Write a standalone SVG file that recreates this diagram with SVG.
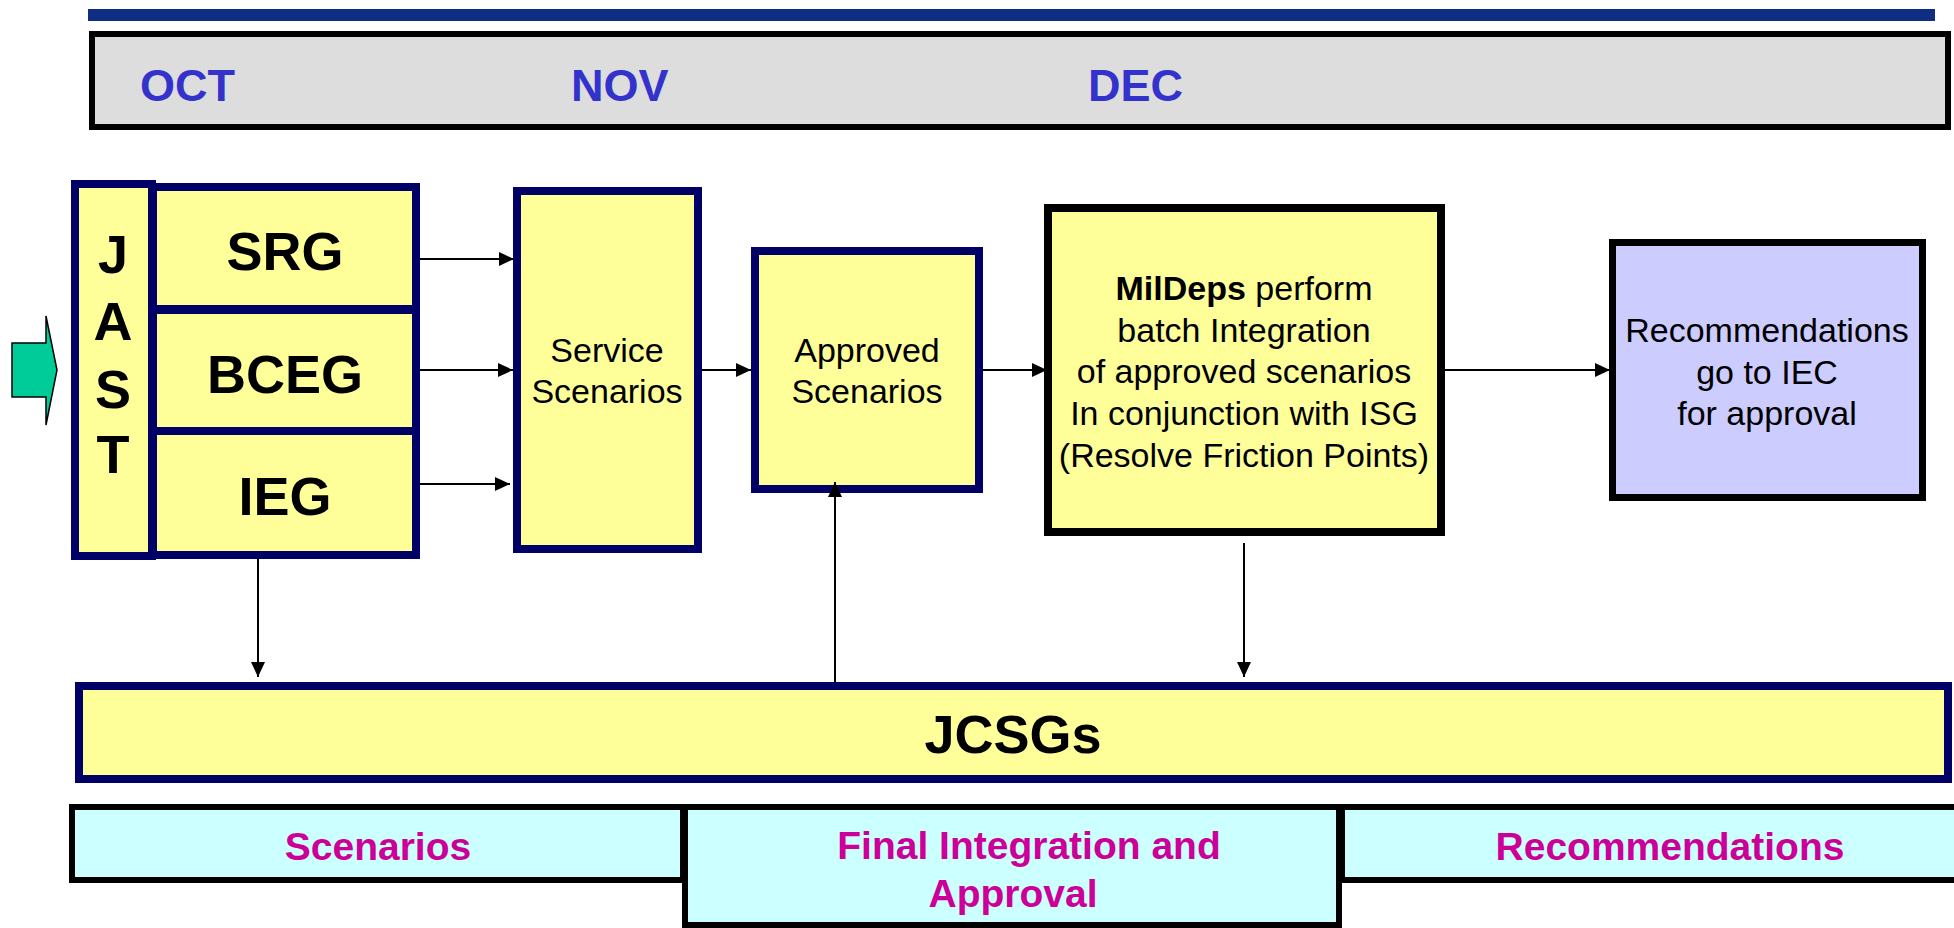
<svg xmlns="http://www.w3.org/2000/svg" width="1954" height="928" viewBox="0 0 1954 928">
  <defs>
    <marker id="arrow" markerUnits="userSpaceOnUse" markerWidth="15" markerHeight="14" refX="15" refY="7" orient="auto">
      <path d="M0,0 L15,7 L0,14 z" fill="#000"/>
    </marker>
    <style>
      text { font-family: "Liberation Sans", Arial, sans-serif; fill: #000; }
      .month { font-size: 45px; font-weight: bold; fill: #3333CC; }
      .yel { fill: #FFFF99; stroke: #000066; stroke-width: 8; }
      .yelk { fill: #FFFF99; stroke: #000; stroke-width: 8; }
      .big { font-size: 54px; font-weight: bold; text-anchor: middle; }
      .body { font-size: 34px; text-anchor: middle; }
      .phase { fill: #CCFFFF; stroke: #000; stroke-width: 6; }
      .phaseTxt { font-size: 39px; font-weight: bold; fill: #CC0099; text-anchor: middle; }
      .conn { stroke: #000; stroke-width: 2; fill: none; marker-end: url(#arrow); }
    </style>
  </defs>

  <!-- timeline header -->
  <g id="timeline">
    <rect x="88" y="9" width="1847" height="12" fill="#0F2D83"/>
    <rect x="92" y="34" width="1856" height="93" fill="#DDDDDD" stroke="#000" stroke-width="6"/>
    <text class="month" x="140" y="101">OCT</text>
    <text class="month" x="571" y="101">NOV</text>
    <text class="month" x="1088" y="101">DEC</text>
  </g>

  <!-- input arrow -->
  <g id="input-arrow">
    <polygon points="12,343 46,343 46,316 57,370 46,425 46,397 12,397" fill="#00CC99" stroke="#000" stroke-width="1.5"/>
  </g>

  <g id="jast">
    <rect class="yel" x="75" y="184" width="77" height="372"/>
    <text class="big" x="113" y="273">J</text>
    <text class="big" x="113" y="340">A</text>
    <text class="big" x="113" y="408">S</text>
    <text class="big" x="113" y="473">T</text>
  </g>

  <g id="srg">
    <rect class="yel" x="153" y="187" width="263" height="122"/>
    <text class="big" x="285" y="270">SRG</text>
  </g>
  <g id="bceg">
    <rect class="yel" x="153" y="310" width="263" height="121"/>
    <text class="big" x="285" y="393">BCEG</text>
  </g>
  <g id="ieg">
    <rect class="yel" x="153" y="431" width="263" height="124"/>
    <text class="big" x="285" y="515">IEG</text>
  </g>

  <g id="service-scenarios">
    <rect class="yel" x="517" y="191" width="181" height="358"/>
    <text class="body" x="607" y="362">Service</text>
    <text class="body" x="607" y="403">Scenarios</text>
  </g>

  <g id="approved-scenarios">
    <rect class="yel" x="755" y="251" width="224" height="238"/>
    <text class="body" x="867" y="362">Approved</text>
    <text class="body" x="867" y="403">Scenarios</text>
  </g>

  <g id="mildeps">
    <rect class="yelk" x="1048" y="208" width="393" height="324"/>
    <text class="body" x="1244" y="300"><tspan font-weight="bold">MilDeps</tspan> perform</text>
    <text class="body" x="1244" y="342">batch Integration</text>
    <text class="body" x="1244" y="383">of approved scenarios</text>
    <text class="body" x="1244" y="425">In conjunction with ISG</text>
    <text class="body" x="1244" y="467">(Resolve Friction Points)</text>
  </g>

  <g id="recommendations">
    <rect x="1612.5" y="242.5" width="310" height="255" fill="#CCCCFF" stroke="#000" stroke-width="7"/>
    <text class="body" x="1767" y="342">Recommendations</text>
    <text class="body" x="1767" y="384">go to IEC</text>
    <text class="body" x="1767" y="425">for approval</text>
  </g>

  <g id="jcsgs">
    <rect class="yel" x="79" y="686" width="1869" height="93"/>
    <text class="big" x="1013" y="753" font-size="53">JCSGs</text>
  </g>

  <!-- phase bands -->
  <g id="phase-scenarios">
    <rect class="phase" x="72" y="807" width="611" height="73"/>
    <text class="phaseTxt" x="378" y="860">Scenarios</text>
  </g>
  <g id="phase-rec">
    <rect class="phase" x="1342" y="807" width="660" height="73"/>
    <text class="phaseTxt" x="1670" y="860">Recommendations</text>
  </g>
  <g id="phase-final">
    <rect class="phase" x="685" y="807" width="654" height="118"/>
    <text class="phaseTxt" x="1029" y="859">Final Integration and</text>
    <text class="phaseTxt" x="1013" y="907">Approval</text>
  </g>

  <g id="connectors">
    <line class="conn" x1="420" y1="259" x2="514" y2="259"/>
    <line class="conn" x1="420" y1="370" x2="513" y2="370"/>
    <line class="conn" x1="420" y1="484" x2="510" y2="484"/>
    <line class="conn" x1="702" y1="370" x2="751" y2="370"/>
    <line class="conn" x1="983" y1="370" x2="1047" y2="370"/>
    <line class="conn" x1="1445" y1="370" x2="1610" y2="370"/>
    <line class="conn" x1="258" y1="559" x2="258" y2="677"/>
    <line class="conn" x1="835" y1="682" x2="835" y2="482"/>
    <line class="conn" x1="1244" y1="543" x2="1244" y2="677"/>
  </g>
</svg>
